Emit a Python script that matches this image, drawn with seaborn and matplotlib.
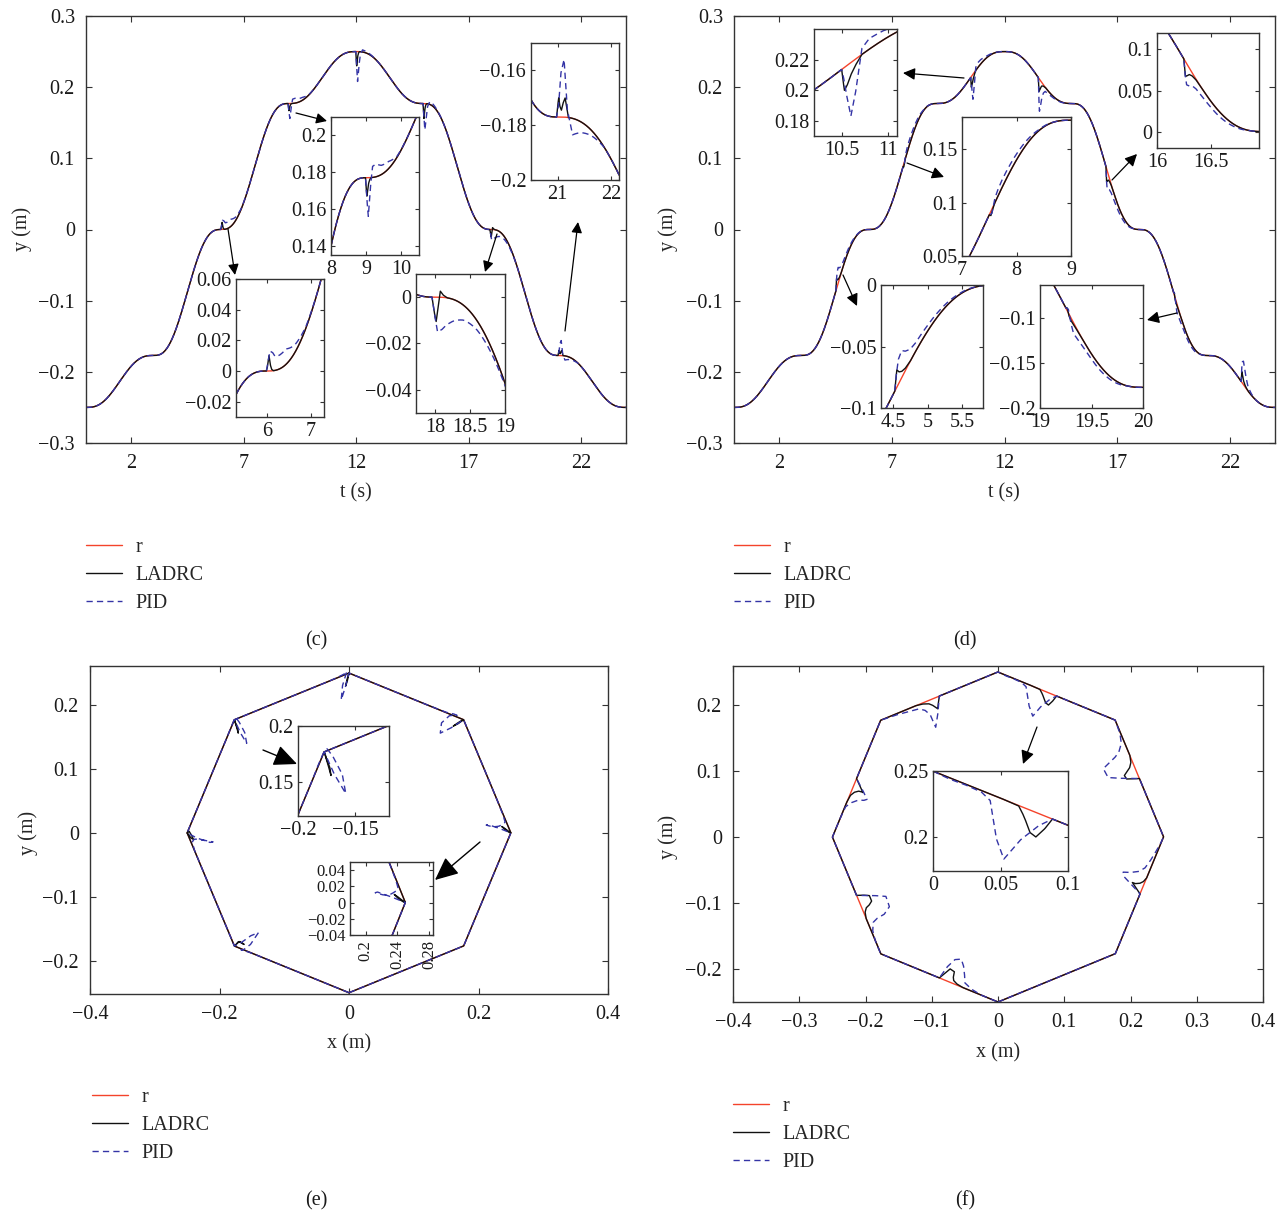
import numpy as np
import matplotlib
matplotlib.use("Agg")
import matplotlib.pyplot as plt
from matplotlib.lines import Line2D
from matplotlib.ticker import FuncFormatter
import seaborn as sns

# ---------------- path waypoints (octagon, counter-clockwise from the bottom) ----------------
waypoint_t = [0, 3, 6, 9, 12, 15, 18, 21, 24]
waypoint_x = [0.0, 0.177, 0.25, 0.177, 0.0, -0.177, -0.25, -0.177, 0.0]
waypoint_y = [-0.25, -0.177, 0.0, 0.177, 0.25, 0.177, 0.0, -0.177, -0.25]

# ---------------- disturbance hitting at the vertices (panels c, e) ----------------
vertex_hit_t = [5.99, 8.98, 11.99, 14.98, 17.95, 20.98]
vertex_ladrc_tau = [0, 0.02, 0.04, 0.06, 0.09, 0.12, 0.16, 0.22]
vertex_ladrc_dx = [
    [0, -0.003, -0.008, -0.014, -0.008, -0.003, -0.001, 0],
    [0, -0.008, -0.016, -0.012, -0.006, -0.002, 0, 0],
    [0, -0.002, -0.005, -0.004, -0.002, 0, 0, 0],
    [0, 0.003, 0.006, 0.005, 0.002, 0.001, 0, 0],
    [0, 0.003, 0.006, 0.010, 0.007, 0.003, 0.001, 0],
    [0, 0.004, 0.008, 0.012, 0.015, 0.012, 0.006, 0],
]
vertex_ladrc_dy = [
    [0, 0.002, 0.006, 0.010, 0.004, 0.001, 0, 0],
    [0, -0.006, -0.010, -0.007, -0.003, -0.001, 0, 0],
    [0, -0.010, -0.020, -0.014, -0.006, -0.002, 0, 0],
    [0, -0.010, -0.021, -0.014, -0.006, -0.002, 0, 0],
    [0, -0.004, -0.008, -0.0105, -0.004, 0.0026, 0.001, 0],
    [0, 0.004, 0.007, 0.004, 0.0025, 0.005, 0.007, 0],
]
vertex_pid_tau = [0, 0.04, 0.08, 0.14, 0.2, 0.3, 0.45, 0.65, 0.9, 1.2]
vertex_pid_dx = [
    [0, -0.015, -0.035, -0.038, -0.028, -0.018, -0.010, -0.004, -0.001, 0],
    [0, -0.018, -0.036, -0.034, -0.022, -0.012, -0.006, -0.003, 0, 0],
    [0, -0.005, -0.012, -0.010, -0.005, -0.002, 0, 0, 0, 0],
    [0, 0.009, 0.019, 0.016, 0.008, 0.003, 0.001, 0, 0, 0],
    [0, 0.015, 0.035, 0.040, 0.030, 0.018, 0.010, 0.004, 0.001, 0],
    [0, 0.010, 0.025, 0.037, 0.025, 0.012, 0.006, 0.002, 0, 0],
]
vertex_pid_dy = [
    [0, 0.006, 0.013, 0.012, 0.009, 0.009, 0.010, 0.005, 0.001, 0],
    [0, -0.012, -0.021, -0.005, 0.006, 0.007, 0.005, 0.004, 0.0005, 0],
    [0, -0.020, -0.042, -0.020, -0.004, 0.003, 0.002, 0.001, 0, 0],
    [0, -0.020, -0.037, -0.020, -0.004, 0.004, 0.003, 0.001, 0, 0],
    [0, -0.008, -0.015, -0.014, -0.012, -0.0095, -0.0065, -0.004, -0.002, 0],
    [0, 0.005, 0.016, 0.021, 0.003, -0.006, -0.004, -0.002, 0, 0],
]

# ---------------- disturbance hitting mid-edge (panels d, f) ----------------
edge_hit_t = [4.52, 7.5, 10.5, 13.5, 16.5, 19.5, 22.5]
edge_ladrc_tau = [0, 0.015, 0.03, 0.06, 0.1, 0.15, 0.22, 0.32]
edge_ladrc_dx = [
    [0, -0.007, -0.013, -0.010, -0.005, -0.002, 0, 0],
    [0, -0.010, -0.018, -0.020, -0.014, -0.008, -0.003, 0],
    [0, -0.004, -0.009, -0.010, -0.008, -0.005, -0.001, 0],
    [0, 0, 0.001, 0.002, 0.002, 0.001, 0, 0],
    [0, 0.006, 0.011, 0.012, 0.008, 0.004, 0.001, 0],
    [0, 0.010, 0.018, 0.020, 0.015, 0.008, 0.003, 0],
    [0, 0.007, 0.013, 0.016, 0.010, 0.005, 0.002, 0],
]
edge_ladrc_dy = [
    [0, 0.008, 0.014, 0.009, 0.005, 0.002, 0, 0],
    [0, -0.002, -0.004, -0.002, 0, 0, 0, 0],
    [0, -0.008, -0.015, -0.013, -0.008, -0.004, 0, 0],
    [0, -0.010, -0.018, -0.015, -0.010, -0.005, -0.002, 0],
    [0, -0.010, -0.018, -0.014, -0.008, -0.004, -0.001, 0],
    [0, 0.002, 0.003, -0.002, -0.003, -0.002, -0.001, 0],
    [0, 0.008, 0.015, 0.012, 0.006, 0.003, 0.001, 0],
]
edge_pid_tau = [0, 0.02, 0.05, 0.1, 0.15, 0.22, 0.3, 0.45, 0.65, 0.9, 1.2]
edge_pid_dx = [
    [0, -0.012, -0.026, -0.030, -0.022, -0.012, -0.006, -0.003, -0.001, 0, 0],
    [0, -0.025, -0.045, -0.050, -0.040, -0.028, -0.018, -0.008, -0.003, -0.001, 0],
    [0, -0.008, -0.018, -0.025, -0.025, -0.022, -0.020, -0.016, -0.010, -0.004, 0],
    [0, 0, 0, 0.002, 0.003, 0.003, 0.002, 0.001, 0, 0, 0],
    [0, 0.010, 0.018, 0.016, 0.010, 0.003, -0.003, -0.003, -0.0025, -0.0012, 0],
    [0, 0.025, 0.042, 0.045, 0.035, 0.022, 0.012, 0.005, 0.002, 0.001, 0],
    [0, 0.010, 0.018, 0.022, 0.020, 0.014, 0.006, 0.002, 0, 0, 0],
]
edge_pid_dy = [
    [0, 0.010, 0.020, 0.022, 0.016, 0.010, 0.007, 0.005, 0.003, 0.001, 0],
    [0, -0.002, -0.004, 0.004, 0.006, 0.007, 0.007, 0.006, 0.004, 0.001, 0],
    [0, -0.006, -0.018, -0.035, -0.022, 0.004, 0.007, 0.006, 0.003, 0.001, 0],
    [0, -0.025, -0.045, -0.035, -0.022, -0.012, -0.006, -0.004, -0.002, -0.001, 0],
    [0, -0.015, -0.026, -0.022, -0.016, -0.012, -0.010, -0.008, -0.006, -0.003, 0],
    [0, 0.002, 0.004, -0.006, -0.012, -0.010, -0.008, -0.006, -0.005, -0.003, 0],
    [0, 0.018, 0.030, 0.033, 0.025, 0.015, 0.006, 0.002, 0, 0, 0],
]

# ---------------- labels and ticks ----------------
series_names = ["r", "LADRC", "PID"]
panel_tags = ["(c)", "(d)", "(e)", "(f)"]
time_ticks = [2, 7, 12, 17, 22]
y_time_ticks = [-0.3, -0.2, -0.1, 0, 0.1, 0.2, 0.3]
xy_x_ticks_e = [-0.4, -0.2, 0, 0.2, 0.4]
xy_x_ticks_f = [-0.4, -0.3, -0.2, -0.1, 0, 0.1, 0.2, 0.3, 0.4]
xy_y_ticks = [-0.2, -0.1, 0, 0.1, 0.2]

RED, BLACK, BLUE = "#f4432b", "#111111", "#3434a6"
W, H = 1287, 1215
FS = 14.5

# ---------------- signals ----------------
t = np.round(np.arange(0, 24 + 1e-9, 0.002), 6)


def reference(values):
    out = np.empty_like(t)
    for k in range(len(waypoint_t) - 1):
        t0, t1 = waypoint_t[k], waypoint_t[k + 1]
        m = (t >= t0) & (t <= t1)
        s = (t[m] - t0) / (t1 - t0)
        blend = s ** 3 * (10 - 15 * s + 6 * s ** 2)
        out[m] = values[k] + (values[k + 1] - values[k]) * blend
    return out


def response(base, hits, tau, offsets):
    out = base.copy()
    for t0, off in zip(hits, offsets):
        out += np.interp(t - t0, tau, off, left=0.0, right=0.0)
    return out


rx, ry = reference(waypoint_x), reference(waypoint_y)
v_lad_x = response(rx, vertex_hit_t, vertex_ladrc_tau, vertex_ladrc_dx)
v_lad_y = response(ry, vertex_hit_t, vertex_ladrc_tau, vertex_ladrc_dy)
v_pid_x = response(rx, vertex_hit_t, vertex_pid_tau, vertex_pid_dx)
v_pid_y = response(ry, vertex_hit_t, vertex_pid_tau, vertex_pid_dy)
e_lad_x = response(rx, edge_hit_t, edge_ladrc_tau, edge_ladrc_dx)
e_lad_y = response(ry, edge_hit_t, edge_ladrc_tau, edge_ladrc_dy)
e_pid_x = response(rx, edge_hit_t, edge_pid_tau, edge_pid_dx)
e_pid_y = response(ry, edge_hit_t, edge_pid_tau, edge_pid_dy)

# ---------------- style ----------------
sns.set_theme(style="ticks", rc={
    "axes.edgecolor": "#333333", "axes.linewidth": 1.0,
    "xtick.color": "#333333", "ytick.color": "#333333",
    "xtick.labelcolor": "#1a1a1a", "ytick.labelcolor": "#1a1a1a",
    "axes.facecolor": "white", "figure.facecolor": "white",
})
plt.rcParams["font.family"] = ["Liberation Serif", "DejaVu Serif"]
plt.rcParams["axes.unicode_minus"] = True

line_styles = [
    dict(color=RED, linewidth=1.0),
    dict(color=BLACK, linewidth=1.0),
    dict(color=BLUE, linewidth=1.0, linestyle=(0, (4.5, 3))),
]
fmt = FuncFormatter(lambda v, pos: f"{round(v, 6):g}".replace("-", "\u2212"))

fig = plt.figure(figsize=(W / 100, H / 100), dpi=100)


def box(l, tp, r, b):
    return [l / W, 1 - b / H, (r - l) / W, (b - tp) / H]


def draw(ax, curves, mask=None):
    for (x, y), kw in zip(curves, line_styles):
        if mask is not None:
            x, y = x[mask], y[mask]
        sns.lineplot(x=x, y=y, ax=ax, sort=False, estimator=None, legend=False, **kw)


def dress(ax, xt, yt, xlim, ylim, main=True, xrot=0, fs=FS):
    ax.set_xlim(*xlim)
    ax.set_ylim(*ylim)
    ax.set_xticks(xt)
    ax.set_yticks(yt)
    ax.xaxis.set_major_formatter(fmt)
    ax.yaxis.set_major_formatter(fmt)
    ax.minorticks_off()
    ax.tick_params(axis="both", direction="in", top=True, right=True,
                   length=4.5 if main else 3, width=0.8, labelsize=fs,
                   pad=8 if main else 3.5)
    if xrot:
        for lab in ax.get_xticklabels():
            lab.set_rotation(xrot)
    ax.set_xlabel("")
    ax.set_ylabel("")
    for sp in ax.spines.values():
        sp.set_visible(True)
        sp.set_linewidth(1.0)
        sp.set_color("#333333")


def to_axes(ax, x, y):
    return ax.transAxes.inverted().transform((x, H - y))


def labels(ax, xl, xpos, yl, ypos):
    ax.set_xlabel(xl, fontsize=FS)
    ax.set_ylabel(yl, fontsize=FS)
    ax.xaxis.set_label_coords(*to_axes(ax, *xpos))
    ax.yaxis.set_label_coords(*to_axes(ax, *ypos))


def arrow(ax, tail, tip, ms=16, lw=0.9, hl=0.4, hw=0.2):
    ax.annotate("", xy=(tip[0], H - tip[1]), xycoords="figure pixels",
                xytext=(tail[0], H - tail[1]), textcoords="figure pixels",
                arrowprops=dict(arrowstyle=f"-|>,head_length={hl},head_width={hw}",
                                color="black", lw=lw, mutation_scale=ms,
                                shrinkA=0, shrinkB=0))


def legend(ax, x, y):
    handles = [Line2D([], [], **kw) for kw in line_styles]
    ax.legend(handles, series_names, loc="upper left",
              bbox_to_anchor=(x / W, 1 - y / H), bbox_transform=fig.transFigure,
              frameon=False, fontsize=FS, handlelength=1.8, handletextpad=0.65,
              labelspacing=0.45, borderpad=0, borderaxespad=0)


def time_inset(pos, ys, xt, yt, xlim, ylim, scale=1.0, shift=0.0):
    ax = fig.add_axes(box(*pos))
    ts = scale * t + shift
    m = (ts >= xlim[0] - 0.3) & (ts <= xlim[1] + 0.3)
    draw(ax, [(ts, y) for y in ys], m)
    dress(ax, xt, yt, xlim, ylim, main=False)
    return ax


def xy_inset(pos, curves, xt, yt, xlim, ylim, xrot=0, fs=FS):
    ax = fig.add_axes(box(*pos))
    draw(ax, curves)
    dress(ax, xt, yt, xlim, ylim, main=False, xrot=xrot, fs=fs)
    return ax


# ================= (c) y(t), disturbance at the vertices =================
ys_c = [ry, v_lad_y, v_pid_y]
ax_c = fig.add_axes(box(86, 16, 626, 443))
draw(ax_c, [(t, y) for y in ys_c])
dress(ax_c, time_ticks, y_time_ticks, (0, 24), (-0.3, 0.3))
labels(ax_c, "t (s)", (356, 483), "y (m)", (32, 229))
legend(ax_c, 86, 538)
arrow(ax_c, (296, 113), (327, 121))
arrow(ax_c, (228, 229), (235, 275))
arrow(ax_c, (497, 234), (485, 272))
arrow(ax_c, (565, 331), (578, 222))
time_inset((331, 117, 419, 255), ys_c, [8, 9, 10], [0.14, 0.16, 0.18, 0.2], (8, 10.5), (0.135, 0.21))
time_inset((531, 43, 619, 180), ys_c, [21, 22], [-0.2, -0.18, -0.16], (20.5, 22.15), (-0.2, -0.15))
time_inset((236, 279, 324, 417), ys_c, [6, 7], [-0.02, 0, 0.02, 0.04, 0.06], (5.3, 7.3), (-0.03, 0.06))
time_inset((416, 274, 505, 413), ys_c, [18, 18.5, 19], [-0.04, -0.02, 0], (17.72, 19.0), (-0.05, 0.01))

# ================= (d) y(t), disturbance mid-edge =================
ys_d = [ry, e_lad_y, e_pid_y]
ax_d = fig.add_axes(box(734, 16, 1275, 443))
draw(ax_d, [(t, y) for y in ys_d])
dress(ax_d, time_ticks, y_time_ticks, (0, 24), (-0.3, 0.3))
labels(ax_d, "t (s)", (1004, 483), "y (m)", (678, 229))
legend(ax_d, 734, 538)
arrow(ax_d, (964, 78), (903, 73), ms=18)
arrow(ax_d, (907, 163), (944, 177), ms=18)
arrow(ax_d, (1112, 180), (1137, 154), ms=18)
arrow(ax_d, (843, 275), (857, 306), ms=18)
arrow(ax_d, (1177, 313), (1147, 320), ms=18)
time_inset((814, 29, 897, 136), ys_d, [10.5, 11], [0.18, 0.2, 0.22], (10.2, 11.1), (0.17, 0.24))
time_inset((962, 117, 1071, 256), ys_d, [7, 8, 9], [0.05, 0.1, 0.15], (7, 9), (0.05, 0.18))
time_inset((881, 285, 983, 408), ys_d, [4.5, 5, 5.5], [-0.1, -0.05, 0], (4.32, 5.8), (-0.1, 0))
# these two close-ups run on a half-rate time axis
time_inset((1157, 33, 1259, 148), ys_d, [16, 16.5], [0, 0.05, 0.1], (16, 16.95), (-0.02, 0.12),
           scale=0.5, shift=8.0)
time_inset((1040, 285, 1143, 408), ys_d, [19, 19.5, 20], [-0.2, -0.15, -0.1], (19, 20), (-0.2, -0.063),
           scale=0.5, shift=9.5)

# ================= (e) x-y path, disturbance at the vertices =================
cur_e = [(rx, ry), (v_lad_x, v_lad_y), (v_pid_x, v_pid_y)]
ax_e = fig.add_axes(box(90, 666, 608, 994))
draw(ax_e, cur_e)
dress(ax_e, xy_x_ticks_e, xy_y_ticks, (-0.4, 0.4), (-0.252, 0.261))
labels(ax_e, "x (m)", (349, 1034), "y (m)", (38, 833))
legend(ax_e, 92, 1088)
arrow(ax_e, (263, 750), (297, 764), ms=26, lw=1.0, hl=0.55, hw=0.25)
arrow(ax_e, (480, 842), (435, 880), ms=26, lw=1.0, hl=0.55, hw=0.25)
xy_inset((298, 726, 389, 816), cur_e, [-0.2, -0.15], [0.15, 0.2], (-0.2, -0.12), (0.12, 0.2))
xy_inset((350, 862, 433, 935), cur_e, [0.2, 0.24, 0.28], [-0.04, -0.02, 0, 0.02, 0.04],
         (0.18, 0.285), (-0.04, 0.05), xrot=90, fs=12)

# ================= (f) x-y path, disturbance mid-edge =================
cur_f = [(rx, ry), (e_lad_x, e_lad_y), (e_pid_x, e_pid_y)]
ax_f = fig.add_axes(box(733, 666, 1263, 1002))
draw(ax_f, cur_f)
dress(ax_f, xy_x_ticks_f, xy_y_ticks, (-0.4, 0.4), (-0.25, 0.259))
labels(ax_f, "x (m)", (998, 1043), "y (m)", (678, 837))
legend(ax_f, 733, 1097)
arrow(ax_f, (1037, 727), (1023, 764), ms=20)
xy_inset((933, 771, 1068, 871), cur_f, [0, 0.05, 0.1], [0.2, 0.25], (0, 0.1), (0.174, 0.25))

# ---------------- panel tags ----------------
for tag, (x, y) in zip(panel_tags, [(316, 641), (965, 641), (316, 1201), (965, 1201)]):
    fig.text(x / W, 1 - y / H, tag, ha="center", va="center", fontsize=FS, color="#1a1a1a")

fig.savefig("out.png", dpi=100)
